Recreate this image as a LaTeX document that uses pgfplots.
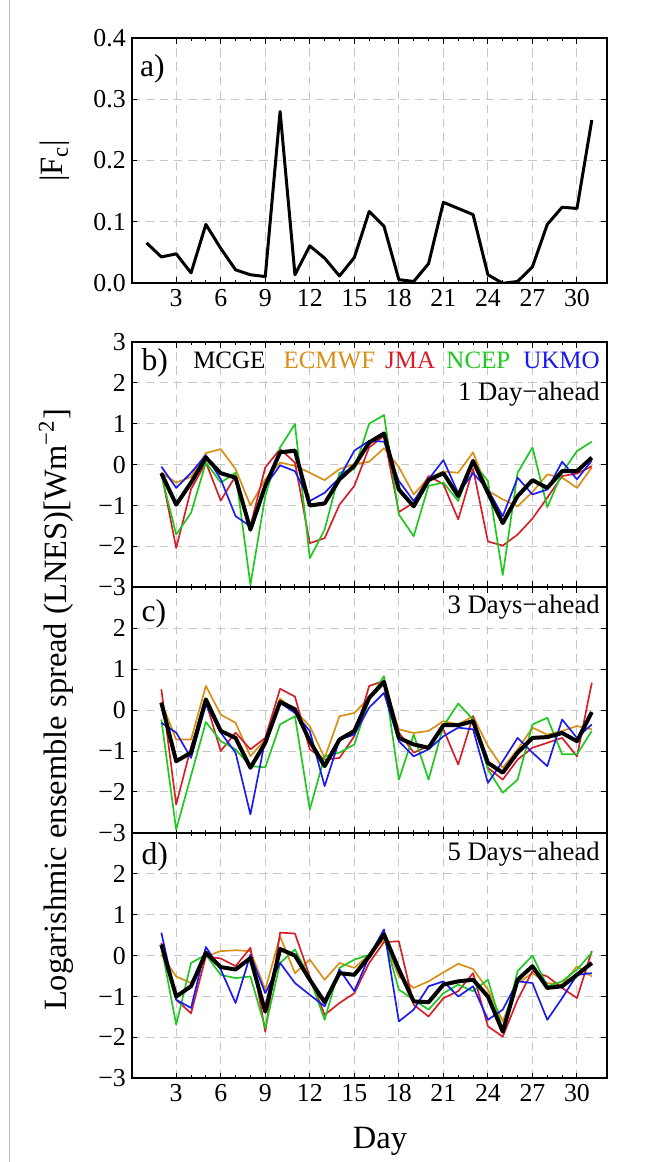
\documentclass[border=0pt]{standalone}
\usepackage{fontspec}
\setmainfont{Liberation Serif}
\usepackage{pgfplots}
\usepackage{pgfplotstable}
\pgfplotsset{compat=1.18}

\definecolor{cecm}{RGB}{217,142,20}
\definecolor{cjma}{RGB}{214,30,40}
\definecolor{cncep}{RGB}{30,200,30}
\definecolor{cukmo}{RGB}{25,25,240}

% panel a) |Fc|
\pgfplotstableread{
day fc
1 0.066
2 0.043
3 0.048
4 0.017
5 0.096
6 0.057
7 0.022
8 0.014
9 0.011
10 0.280
11 0.014
12 0.061
13 0.041
14 0.012
15 0.042
16 0.117
17 0.093
18 0.006
19 0.003
20 0.032
21 0.132
22 0.122
23 0.112
24 0.014
25 0.000
26 0.003
27 0.027
28 0.096
29 0.124
30 0.122
31 0.266
}\tabA

% b) 1 day ahead
\pgfplotstableread{
day mcge ecmwf jma ncep ukmo
2 -0.21 -0.20 -0.20 -0.25 -0.05
3 -0.98 -0.44 -2.04 -1.71 -0.57
4 -0.44 -0.30 -0.60 -1.18 -0.20
5 0.17 0.28 0.05 0.05 0.23
6 -0.21 0.38 -0.88 -0.44 -0.36
7 -0.32 -0.11 -0.28 -0.20 -1.26
8 -1.59 -1.00 -1.50 -2.94 -1.51
9 -0.52 -0.36 -0.07 -0.77 -0.52
10 0.30 0.05 0.38 0.42 -0.02
11 0.34 -0.03 0.05 0.99 -0.16
12 -1.00 -0.20 -1.92 -2.29 -0.89
13 -0.95 -0.38 -1.80 -1.59 -0.69
14 -0.36 -0.11 -0.98 -0.20 -0.32
15 -0.03 0.01 -0.52 -0.11 0.34
16 0.54 0.07 0.42 1.00 0.58
17 0.76 0.40 0.70 1.21 0.56
18 -0.61 -0.06 -1.16 -1.22 -0.40
19 -1.02 -0.73 -0.93 -1.75 -0.89
20 -0.38 -0.32 -0.28 -0.52 -0.36
21 -0.21 -0.17 -0.48 -0.44 0.11
22 -0.77 -0.20 -1.34 -0.89 -0.70
23 0.09 0.30 -0.10 0.05 -0.21
24 -0.69 -0.64 -1.88 -0.40 -0.61
25 -1.43 -0.85 -1.98 -2.70 -1.26
26 -0.77 -1.02 -1.71 -0.20 -0.32
27 -0.38 -0.67 -1.32 0.42 -0.73
28 -0.57 -0.24 -0.81 -1.04 -0.61
29 -0.16 -0.32 -0.28 -0.20 0.07
30 -0.16 -0.57 -0.22 0.33 -0.36
31 0.17 -0.07 -0.04 0.56 0.10
}\tabB

% c) 3 days ahead
\pgfplotstableread{
day mcge ecmwf jma ncep ukmo
2 0.18 0.20 0.51 -0.23 -0.31
3 -1.25 -0.72 -2.31 -2.92 -0.55
4 -1.04 -0.72 -0.90 -1.60 -1.17
5 0.26 0.59 0.20 -0.29 0.14
6 -0.51 -0.11 -1.00 -0.76 -0.55
7 -0.68 -0.31 -0.55 -0.96 -1.04
8 -1.41 -1.13 -0.96 -1.37 -2.55
9 -0.80 -0.72 -0.68 -1.40 -0.72
10 0.20 0.28 0.52 -0.35 0.18
11 0.02 -0.02 0.33 -0.15 -0.07
12 -0.76 -0.39 -0.96 -2.43 -0.51
13 -1.37 -1.17 -1.21 -1.13 -1.86
14 -0.72 -0.15 -1.17 -1.04 -0.72
15 -0.51 -0.07 -0.64 -0.84 -0.60
16 0.30 0.30 0.59 0.26 0.06
17 0.69 0.67 0.71 0.83 0.42
18 -0.68 -0.47 -0.55 -1.70 -0.76
19 -0.84 -0.56 -1.04 -0.60 -1.13
20 -0.92 -0.51 -0.88 -1.70 -0.96
21 -0.37 -0.27 -0.47 -0.39 -0.64
22 -0.37 -0.35 -1.33 0.16 -0.43
23 -0.27 -0.15 -0.15 -0.23 -0.47
24 -1.29 -0.88 -1.41 -1.45 -1.78
25 -1.53 -1.41 -1.70 -2.02 -1.25
26 -1.04 -0.96 -1.21 -1.70 -0.68
27 -0.68 -0.43 -0.92 -0.35 -1.04
28 -0.66 -0.60 -0.80 -0.19 -1.37
29 -0.56 -0.51 -0.68 -1.08 -0.23
30 -0.76 -0.39 -1.13 -1.08 -0.68
31 -0.05 -0.47 0.67 -0.51 -0.35
}\tabC

% d) 5 days ahead
\pgfplotstableread{
day mcge ecmwf jma ncep ukmo
2 0.27 0.02 0.31 0.23 0.56
3 -1.00 -0.51 -1.08 -1.69 -1.08
4 -0.75 -0.67 -1.41 -0.18 -1.28
5 0.07 -0.02 -0.02 0.02 0.21
6 -0.28 0.11 -0.07 -0.47 -0.34
7 -0.34 0.13 -0.26 -0.55 -1.16
8 -0.06 0.11 0.19 -0.51 0.02
9 -1.37 -0.83 -1.86 -1.77 -0.92
10 0.16 0.47 0.56 -0.18 -0.18
11 0.00 -0.43 0.54 0.15 -0.67
12 -0.59 -0.10 -0.51 -0.55 -0.96
13 -1.14 -0.59 -1.45 -1.57 -1.24
14 -0.43 -0.18 -1.16 -0.30 -0.34
15 -0.47 -0.30 -0.92 -0.10 -0.87
16 -0.02 0.02 -0.18 0.02 -0.02
17 0.52 0.39 0.33 0.47 0.64
18 -0.34 -0.51 0.35 -0.83 -1.61
19 -1.12 -0.79 -1.20 -1.08 -1.32
20 -1.14 -0.63 -1.49 -1.32 -0.75
21 -0.71 -0.41 -1.04 -0.92 -0.63
22 -0.63 -0.20 -0.87 -0.71 -1.00
23 -0.59 -0.33 -0.43 -0.87 -0.75
24 -1.00 -0.83 -1.73 -0.59 -1.57
25 -1.86 -1.61 -1.98 -1.82 -1.32
26 -0.59 -0.67 -1.08 -0.38 -0.63
27 -0.26 -0.43 -0.38 0.00 -0.67
28 -0.79 -0.67 -0.51 -0.75 -1.57
29 -0.75 -0.71 -0.79 -0.63 -1.04
30 -0.47 -0.26 -1.04 -0.34 -0.47
31 -0.18 -0.51 0.11 0.07 -0.43
}\tabD

\pgfplotsset{
  panel/.style={
    scale only axis, width=285pt, height=147.3pt,
    xmin=0, xmax=32,
    xtick={3,6,...,30}, minor x tick num=2,
    grid=major,
    major grid style={black!22, line width=0.6pt, dash pattern=on 5pt off 3.5pt},
    axis line style={line width=1.2pt},
    tick style={black, line width=0.6pt},
    major tick length=3.5pt, minor tick length=1.8pt,
    tick align=inside,
    tick label style={font=\fontsize{15.5}{16}\selectfont},
    /pgf/number format/assume math mode=true,
  },
  spread/.style={panel, ymin=-3, ymax=3, xticklabels={}},
  ens/.style={line width=1pt, line join=round},
  mcge/.style={black, line width=2.4pt, line join=round},
}
\tikzset{
  plab/.style={anchor=north west, inner sep=0pt, font=\fontsize{19}{19}\selectfont},
  lead/.style={anchor=base east, inner sep=0pt, font=\fontsize{16}{16}\selectfont},
  leg/.style={anchor=base west, inner sep=0pt, font=\fontsize{15}{15}\selectfont},
}

\begin{document}
\begin{tikzpicture}
\path[use as bounding box] (-79pt,-50.2pt) rectangle (307.4pt,647pt);
\draw[black!25, line width=0.6pt] (-73pt,-50.2pt) -- (-73pt,647pt);

% a)
\begin{axis}[panel, at={(0pt,477pt)}, anchor=south west,
    ymin=0, ymax=0.4, ytick={0,0.1,0.2,0.3,0.4},
    yticklabels={0.0,0.1,0.2,0.3,0.4},
    xticklabels={3,6,9,12,15,18,21,24,27,30}]
\addplot[black, line width=1.8pt, line join=round] table[x=day, y=fc] {\tabA};
\node[plab] at (rel axis cs:0.017,0.935) {a)};
\end{axis}

% b)
\begin{axis}[spread, at={(0pt,294.6pt)}, anchor=south west,
    ytick={-3,...,3}, yticklabels={−3,−2,−1,0,1,2,3}]
\addplot[ens, cecm] table[x=day, y=ecmwf] {\tabB};
\addplot[ens, cjma] table[x=day, y=jma] {\tabB};
\addplot[ens, cncep] table[x=day, y=ncep] {\tabB};
\addplot[ens, cukmo] table[x=day, y=ukmo] {\tabB};
\addplot[mcge] table[x=day, y=mcge] {\tabB};
\node[plab] at (rel axis cs:0.02,0.975) {b)};
\node[leg, black] at (rel axis cs:0.129,0.893) {MCGE};
\node[leg, cecm] at (rel axis cs:0.319,0.893) {ECMWF};
\node[leg, cjma] at (rel axis cs:0.533,0.893) {JMA};
\node[leg, cncep] at (rel axis cs:0.662,0.893) {NCEP};
\node[leg, cukmo, anchor=base east] at (rel axis cs:0.986,0.893) {UKMO};
\node[lead] at (rel axis cs:0.986,0.76) {1 Day−ahead};
\end{axis}

% c)
\begin{axis}[spread, at={(0pt,147.3pt)}, anchor=south west,
    ytick={-3,...,2}, yticklabels={−3,−2,−1,0,1,2}]
\addplot[ens, cecm] table[x=day, y=ecmwf] {\tabC};
\addplot[ens, cjma] table[x=day, y=jma] {\tabC};
\addplot[ens, cncep] table[x=day, y=ncep] {\tabC};
\addplot[ens, cukmo] table[x=day, y=ukmo] {\tabC};
\addplot[mcge] table[x=day, y=mcge] {\tabC};
\node[plab] at (rel axis cs:0.02,0.952) {c)};
\node[lead] at (rel axis cs:0.986,0.895) {3 Days−ahead};
\end{axis}

% d)
\begin{axis}[panel, ymin=-3, ymax=3, at={(0pt,0pt)}, anchor=south west,
    ytick={-3,...,2}, yticklabels={−3,−2,−1,0,1,2},
    xticklabels={3,6,9,12,15,18,21,24,27,30}]
\addplot[ens, cecm] table[x=day, y=ecmwf] {\tabD};
\addplot[ens, cjma] table[x=day, y=jma] {\tabD};
\addplot[ens, cncep] table[x=day, y=ncep] {\tabD};
\addplot[ens, cukmo] table[x=day, y=ukmo] {\tabD};
\addplot[mcge] table[x=day, y=mcge] {\tabD};
\node[plab] at (rel axis cs:0.02,0.96) {d)};
\node[lead] at (rel axis cs:0.986,0.887) {5 Days−ahead};
\end{axis}

% axis titles
\node[rotate=90, font=\fontsize{19.5}{20}\selectfont] at (-45.4pt,221pt)
  {Logarishmic ensemble spread (LNES)[Wm\textsuperscript{−2}]};
\node[rotate=90, font=\fontsize{19.5}{20}\selectfont] at (-46pt,550.6pt)
  {|F\textsubscript{c}|};
\node[font=\fontsize{19.5}{20}\selectfont] at (149pt,-38pt) {Day};
\end{tikzpicture}
\end{document}
